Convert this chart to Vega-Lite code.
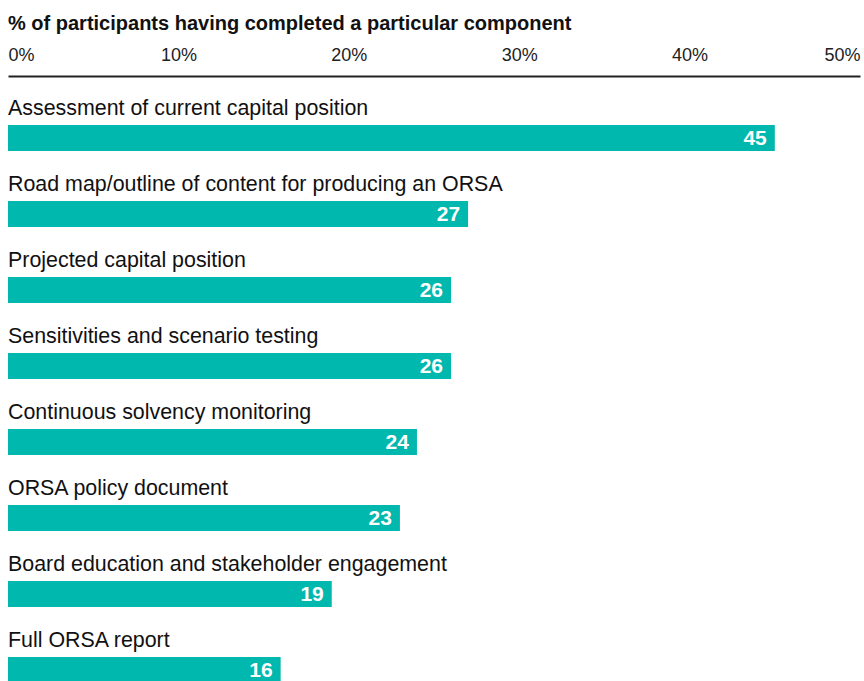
{
  "$schema": "https://vega.github.io/schema/vega-lite/v6.json",
  "autosize": {"type": "none"},
  "width": 852,
  "height": 608,
  "padding": {"top": 100, "left": 8, "right": 4, "bottom": 0},
  "background": "white",
  "config": {"view": {"stroke": null}, "font": "Liberation Sans"},
  "title": {
    "text": "% of participants having completed a particular component",
    "anchor": "start",
    "frame": "group",
    "fontSize": 20,
    "fontWeight": "bold",
    "color": "#111111",
    "offset": 12
  },
  "data": {
    "values": [
      {"component": "Assessment of current capital position", "value": 45, "order": 1},
      {"component": "Road map/outline of content for producing an ORSA", "value": 27, "order": 2},
      {"component": "Projected capital position", "value": 26, "order": 3},
      {"component": "Sensitivities and scenario testing", "value": 26, "order": 4},
      {"component": "Continuous solvency monitoring", "value": 24, "order": 5},
      {"component": "ORSA policy document", "value": 23, "order": 6},
      {"component": "Board education and stakeholder engagement", "value": 19, "order": 7},
      {"component": "Full ORSA report", "value": 16, "order": 8}
    ]
  },
  "encoding": {
    "y": {
      "field": "component",
      "type": "nominal",
      "sort": {"field": "order", "order": "ascending"},
      "scale": {"paddingInner": 0, "paddingOuter": 0},
      "axis": null
    }
  },
  "layer": [
    {
      "mark": {"type": "bar", "size": 26, "color": "#00b8ad"},
      "encoding": {
        "x": {
          "field": "value",
          "type": "quantitative",
          "scale": {"domain": [0, 50], "nice": false},
          "axis": {
            "orient": "top",
            "title": null,
            "values": [0, 10, 20, 30, 40, 50],
            "labelExpr": "datum.value + '%'",
            "labelFlush": true,
            "labelFontSize": 18,
            "labelColor": "#222222",
            "labelPadding": 12,
            "ticks": false,
            "tickSize": 0,
            "grid": false,
            "domainColor": "#222222",
            "domainWidth": 2,
            "offset": 24
          }
        }
      }
    },
    {
      "mark": {"type": "text", "align": "left", "baseline": "alphabetic", "dy": -23, "fontSize": 21.4, "color": "#111111"},
      "encoding": {
        "x": {"datum": 0},
        "text": {"field": "component"}
      }
    },
    {
      "mark": {"type": "text", "align": "right", "baseline": "middle", "dx": -8, "dy": 1, "fontSize": 21, "fontWeight": "bold", "color": "white"},
      "encoding": {
        "x": {"field": "value", "type": "quantitative"},
        "text": {"field": "value"}
      }
    }
  ]
}
